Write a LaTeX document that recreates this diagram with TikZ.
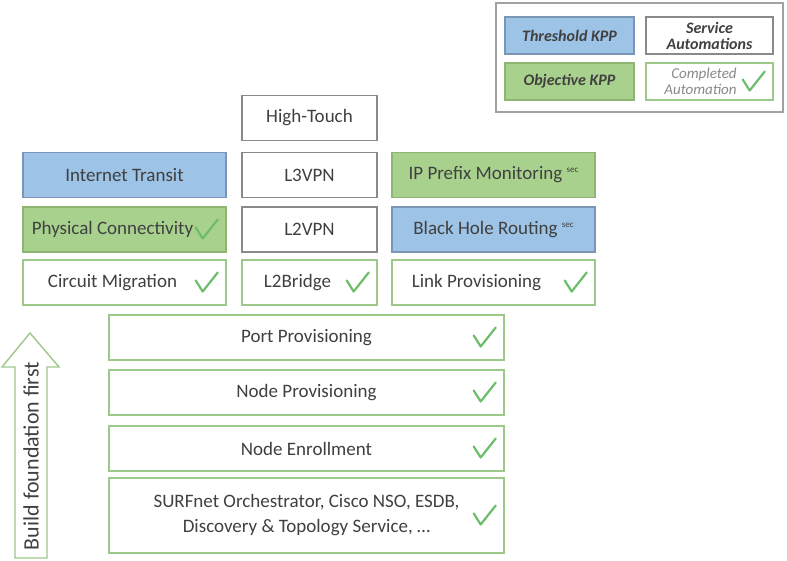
\documentclass[tikz,border=0pt]{standalone}
\usepackage{fontspec}
\setmainfont{Carlito}
\usepackage{tikz}
\usetikzlibrary{calc}

\definecolor{bluefill}{HTML}{9DC3E6}
\definecolor{blueline}{HTML}{7A96B4}
\definecolor{greenfill}{HTML}{A9D18E}
\definecolor{greenline}{HTML}{8FB573}
\definecolor{doneline}{HTML}{9CC88A}
\definecolor{plainline}{HTML}{8A8A8A}
\definecolor{tickgreen}{HTML}{6DBE6A}
\definecolor{textgray}{HTML}{404040}

% tick mark at the right end of a box
\newcommand{\tickmark}[1]{\draw[tick] ([shift={(-31,-2)}]#1.east) -- ++(7,11) -- ++(15,-19);}
\newcommand{\tickgap}{\hspace*{24pt}}
\newcommand{\secmark}{\raisebox{7pt}{\fontsize{9}{9}\selectfont sec}}

\begin{document}
\begin{tikzpicture}[x=1pt,y=-1pt]
      \useasboundingbox (0,0) rectangle (787,560);
      \tikzstyle{box}=[rectangle,draw,line width=1.4pt,inner sep=0pt,
        text=textgray,font=\fontsize{19}{25}\selectfont,
        minimum height=45pt]
      \tikzstyle{plain}=[box,draw=plainline,fill=white]
      \tikzstyle{done}=[box,draw=doneline,fill=white]
      \tikzstyle{threshold}=[box,draw=blueline,fill=bluefill]
      \tikzstyle{objective}=[box,draw=greenline,fill=greenfill]
      \tikzstyle{legend}=[minimum width=129pt,minimum height=37pt,
        font=\fontsize{16}{16}\selectfont\bfseries\itshape,align=center]
      \tikzstyle{tick}=[draw=tickgreen,line width=2.2pt,line cap=round,line join=round]

      % legend
      \draw[draw=plainline!80,line width=1.2pt] (496,3) rectangle (783,112);
      \node[threshold,legend] (LT) at (569.5,35.5) {Threshold KPP};
      \node[plain,legend,minimum width=127pt] (LS) at (709.5,35.5) {Service\\Automations};
      \node[objective,legend] (LO) at (569.5,81.5) {Objective KPP};
      \node[done,legend,minimum width=127pt,text=plainline,font=\fontsize{15}{16}\selectfont\itshape,align=right]
           (LC) at (709.5,81.5) {Completed\hspace*{18pt}\\Automation\hspace*{18pt}};
      \tickmark{LC}

      % service columns
      \node[plain,minimum width=135pt] (HT) at (309.5,118) {High-Touch};
      \node[plain,minimum width=135pt] (L3) at (309.5,175) {L3VPN};
      \node[plain,minimum width=135pt] (L2) at (309.5,229.5) {L2VPN};
      \node[done,minimum width=135pt]  (LB) at (309.5,282.5) {L2Bridge\tickgap};

      \node[threshold,minimum width=203pt] (IT) at (124.5,175) {Internet Transit};
      \node[objective,minimum width=203pt] (PC) at (124.5,229.5) {Physical Connectivity\tickgap};
      \node[done,minimum width=203pt]      (CM) at (124.5,282.5) {Circuit Migration\tickgap};

      \node[objective,minimum width=203pt] (IP) at (493.5,175) {IP Prefix Monitoring \secmark};
      \node[threshold,minimum width=203pt] (BH) at (493.5,229.5) {Black Hole Routing \secmark};
      \node[done,minimum width=203pt]      (LP) at (493.5,282.5) {Link Provisioning\tickgap\hspace*{10pt}};

      % foundation
      \node[done,minimum width=395pt] (PP) at (306.5,337.5) {Port Provisioning};
      \node[done,minimum width=395pt] (NP) at (306.5,392.5) {Node Provisioning};
      \node[done,minimum width=395pt] (NE) at (306.5,448.5) {Node Enrollment};
      \node[done,minimum width=395pt,minimum height=75pt,align=center] (SO) at (306.5,515.5)
           {SURFnet Orchestrator, Cisco NSO, ESDB,\\Discovery \& Topology Service, \dots};

      \tickmark{LB} \tickmark{PC} \tickmark{CM} \tickmark{LP}
      \tickmark{PP} \tickmark{NP} \tickmark{NE} \tickmark{SO}

      % build arrow
      \draw[draw=doneline,line width=1.4pt,fill=white] (15,558) -- (15,367) -- (2,367) -- (30,333)
           -- (59,367) -- (47,367) -- (47,558) -- cycle;
      \node[rotate=90,text=textgray,font=\fontsize{22}{22}\selectfont] (BF) at (31,456) {Build foundation first};

    \end{tikzpicture}
\end{document}
